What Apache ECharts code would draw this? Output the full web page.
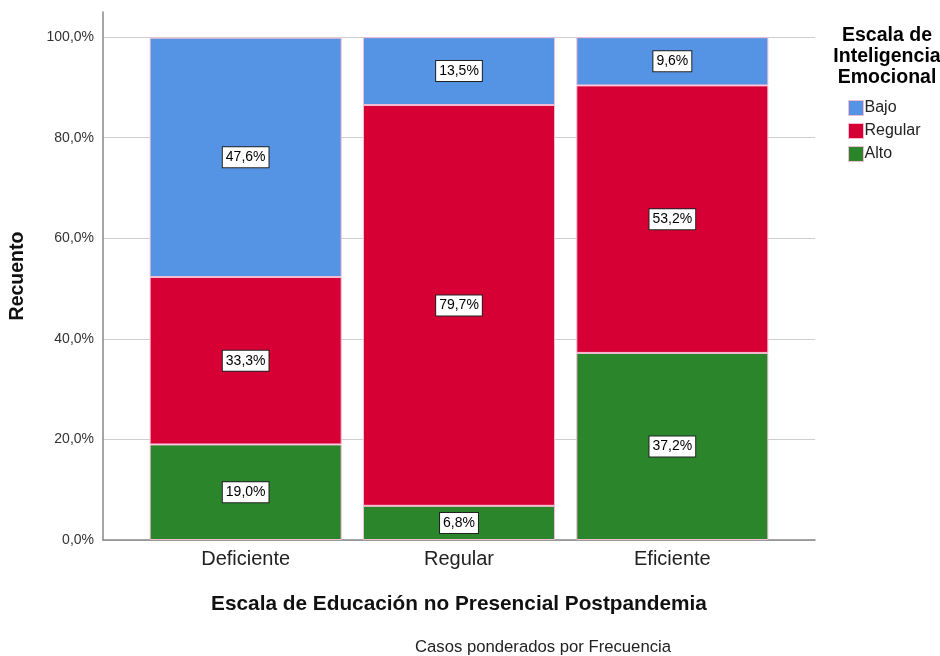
<!DOCTYPE html>
<html><head><meta charset="utf-8">
<script src="https://cdn.jsdelivr.net/npm/echarts@6/dist/echarts.min.js"></script>
<style>html,body{margin:0;padding:0;background:#fff}#c{width:940px;height:656px}</style>
</head><body><div id="c"></div>
<script>
const categories = ['Deficiente', 'Regular', 'Eficiente'];
const seriesNames = ['Alto', 'Regular', 'Bajo'];
const alto = [19.0, 6.8, 37.2];
const regular = [33.3, 79.7, 53.2];
const bajo = [47.6, 13.5, 9.6];
const yTicks = [0, 20, 40, 60, 80, 100];
const colors = { Bajo: '#5594E4', Regular: '#D70034', Alto: '#2A852B' };
const font = 'Liberation Sans, Arial, sans-serif';

const chart = echarts.init(document.getElementById('c'));
const fmt = v => v.toFixed(1).replace('.', ',') + '%';
function mk(name, data) {
  return {
    name, type: 'bar', stack: 's', xAxisIndex: 1, yAxisIndex: 1,
    barWidth: '90%', data,
    itemStyle: { color: colors[name], borderColor: '#F5BBD3', borderWidth: 1 },
    label: {
      show: true, position: 'inside', formatter: p => fmt(p.value),
      color: '#000', fontFamily: font, fontSize: 14,
      backgroundColor: '#fff', borderColor: '#222', borderWidth: 1,
      padding: [4, 3, 2, 3]
    }
  };
}
chart.setOption({
  animation: false,
  title: [{
    text: 'Escala de\nInteligencia\nEmocional', left: 882, top: 20, textAlign: 'center',
    textStyle: { fontFamily: font, fontWeight: 'bold', fontSize: 19.5, lineHeight: 21, color: '#000' }
  }, {
    text: 'Casos ponderados por Frecuencia', left: 538, top: 634, textAlign: 'center',
    textStyle: { fontFamily: font, fontWeight: 'normal', fontSize: 16.7, color: '#222' }
  }],
  legend: {
    data: ['Bajo', 'Regular', 'Alto'], orient: 'vertical', left: 843, top: 95,
    itemWidth: 15, itemHeight: 15, itemGap: 7, icon: 'rect',
    itemStyle: { borderColor: '#F5BBD3', borderWidth: 1 },
    textStyle: { fontFamily: font, fontSize: 16, color: '#222', padding: [0, 0, 0, -4] }
  },
  grid: [
    { left: 103, right: 125, top: 12, bottom: 116 },
    { left: 139, right: 161, top: 12, bottom: 116 }
  ],
  xAxis: [{
    type: 'value', gridIndex: 0, min: 0, max: 1,
    axisLine: { show: true, onZero: false, lineStyle: { color: '#888', width: 1.5 } },
    axisTick: { show: false }, axisLabel: { show: false }, splitLine: { show: false },
    name: 'Escala de Educación no Presencial Postpandemia', nameLocation: 'middle', nameGap: 54,
    nameTextStyle: { fontFamily: font, fontWeight: 'bold', fontSize: 20.8, color: '#111' }
  }, {
    type: 'category', gridIndex: 1, data: categories,
    axisLine: { show: false }, axisTick: { show: false },
    axisLabel: { fontFamily: font, fontSize: 20, color: '#222', margin: 9 }
  }],
  yAxis: [{
    type: 'value', gridIndex: 0, min: 0, max: 105, interval: 20,
    axisLine: { show: true, lineStyle: { color: '#888', width: 1.5 } },
    axisTick: { show: false },
    axisLabel: { fontFamily: font, fontSize: 14, color: '#333', margin: 9,
      formatter: v => yTicks.includes(v) ? fmt(v) : '' },
    splitLine: { show: true, showMaxLine: false, lineStyle: { color: '#CFCFCF', width: 1 } },
    name: 'Recuento', nameLocation: 'middle', nameGap: 75, nameRotate: 90,
    nameTextStyle: { fontFamily: font, fontWeight: 'bold', fontSize: 19.5, color: '#111' }
  }, {
    type: 'value', gridIndex: 1, min: 0, max: 105, show: false
  }],
  series: [
    { type: 'line', xAxisIndex: 0, yAxisIndex: 0, data: [], silent: true },
    mk('Alto', alto), mk('Regular', regular), mk('Bajo', bajo)
  ]
});
</script></body></html>
